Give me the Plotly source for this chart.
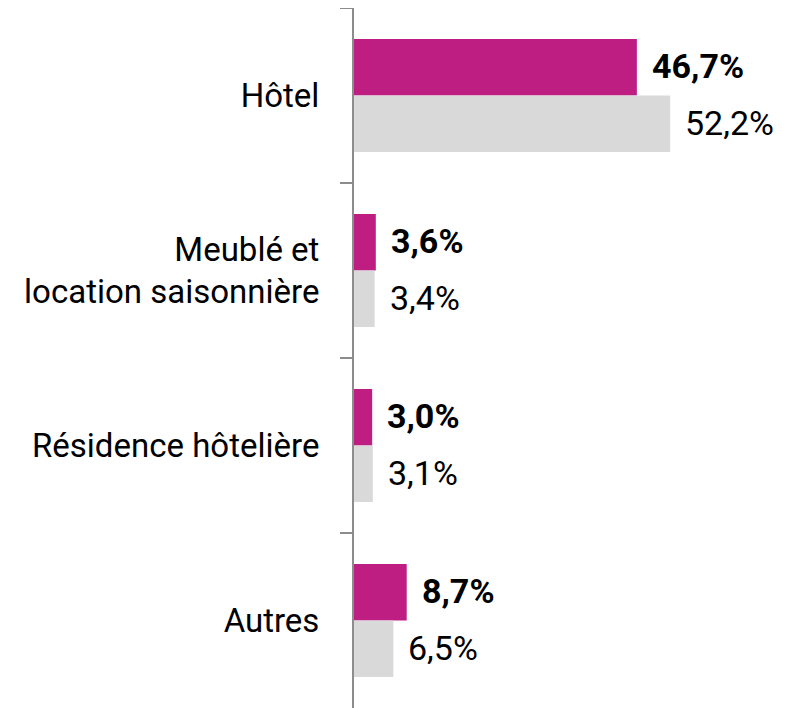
import plotly.graph_objects as go

categories = ["Hôtel", "Meublé et<br>location saisonnière", "Résidence hôtelière", "Autres"]
serie_a = [46.7, 3.6, 3.0, 8.7]   # magenta, bold labels
serie_b = [52.2, 3.4, 3.1, 6.5]   # light grey

MAGENTA = "#BE1E82"
GREY = "#D9D9D9"
FONT = "Roboto"
FS = 33
FS_VAL = 34

def fmt(v):
    return f"{v:.1f}%".replace(".", ",")

fig = go.Figure()
fig.add_trace(go.Bar(y=categories, x=serie_a, orientation="h", marker_color=MAGENTA,
                     marker_line_width=0, name="a"))
fig.add_trace(go.Bar(y=categories, x=serie_b, orientation="h", marker_color=GREY,
                     marker_line_width=0, name="b"))

# value labels, offset a bit from the bar ends
for c, a, b in zip(categories, serie_a, serie_b):
    fig.add_annotation(x=a, y=c, text="<b>" + fmt(a) + "</b>", showarrow=False,
                       xanchor="left", xshift=13, yshift=30,
                       font=dict(family=FONT, size=FS_VAL, color="#000000"))
    fig.add_annotation(x=b, y=c, text=fmt(b), showarrow=False,
                       xanchor="left", xshift=13, yshift=-27,
                       font=dict(family=FONT, size=FS_VAL, color="#000000"))

# page body has an 8px margin, so the plot area is shifted by that
fig.update_layout(
    width=786, height=708,
    margin=dict(l=346, r=16, t=0, b=8),
    barmode="group", bargap=0.355, bargroupgap=0,
    showlegend=False,
    plot_bgcolor="white", paper_bgcolor="white",
    font=dict(family=FONT, size=FS, color="#000000"),
    xaxis=dict(range=[0, 70.0], visible=False, fixedrange=True),
    yaxis=dict(autorange="reversed", showline=True, linecolor="#8c8c8c", linewidth=2,
               ticks="outside", tickson="boundaries", ticklen=12, tickwidth=2,
               tickcolor="#8c8c8c", ticklabelstandoff=26, showgrid=False,
               tickfont=dict(family=FONT, size=FS, color="#000000")),
)

fig.write_html("out.html")
